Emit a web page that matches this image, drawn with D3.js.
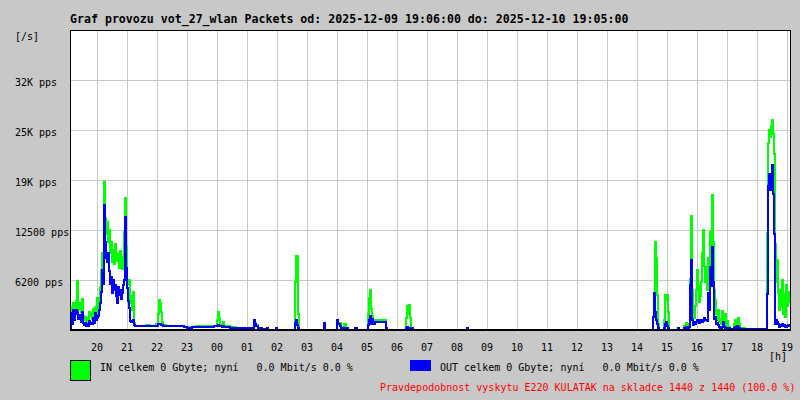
<!DOCTYPE html>
<html>
<head>
<meta charset="utf-8">
<script src="https://cdn.jsdelivr.net/npm/d3@7"></script>
<style>
  html, body { margin: 0; padding: 0; background: #c8c8c8; }
  svg { display: block; }
  text { font-family: "DejaVu Sans Mono", "Liberation Mono", monospace; }
</style>
</head>
<body>
<svg id="graf"></svg>
<script>
// osa X: minuty od 2025-12-09 19:06
const hourLabels = ["20","21","22","23","00","01","02","03","04","05","06","07",
                    "08","09","10","11","12","13","14","15","16","17","18","19"];
const firstHourMinute = 54;

// osa Y
const yTicks = [6250, 12500, 18750, 25000, 31250];
const yTickLabels = ["6200 pps", "12500 pps", "19K pps", "25K pps", "32K pps"];
const yMax = 37500;

// vzorky: [minuta, IN pps, OUT pps]
const samples = [
  [0,300,200],[2,2900,2100],[4,1500,800],[6,3400,2500],[8,2000,1200],[10,2800,2000],
  [12,3600,2500],[14,6100,2200],[16,2500,1400],[18,3000,1900],[20,3400,1600],[22,2200,1000],
  [24,3900,2200],[26,1800,900],[28,1300,600],[30,1600,900],[32,900,500],[34,1500,700],
  [36,1200,500],[38,2200,1100],[40,1700,800],[42,2100,900],[44,1400,700],[46,2600,1500],
  [48,1600,900],[50,2900,2100],[52,2000,1200],[54,4000,1500],[56,2700,1700],[58,3700,2500],
  [60,5400,3400],[62,7500,4700],[64,9600,7500],[66,8300,5700],[68,18500,15600],[70,14000,11000],
  [72,12000,9000],[74,13500,8500],[76,11000,9600],[78,12500,7400],[80,9600,5800],[82,11000,6600],
  [84,8500,4600],[86,10000,6200],[88,8200,5000],[90,10800,5600],[92,9000,4200],[94,8600,3400],
  [96,9500,5400],[98,7800,4400],[100,9900,5000],[102,8200,3900],[104,7600,4600],[106,9100,5600],
  [108,12300,6200],[110,16500,14100],[112,10500,7800],[114,6200,5200],[116,5600,3600],[118,6200,2700],
  [120,3400,1100],[122,4300,1000],[124,2500,1000],[126,4800,1200],[128,900,600],[130,500,500],
  [136,550,450],[144,450,500],[152,600,500],[160,500,450],[168,450,500],[172,700,500],
  [176,2000,700],[178,3700,800],[180,3400,700],[182,2200,600],[184,1000,600],[186,600,550],
  [192,500,500],[204,550,450],[212,450,500],[220,500,450],[228,400,400],[234,350,300],
  [244,400,350],[252,450,400],[260,450,400],[270,500,420],[280,450,400],[288,500,450],
  [294,1200,500],[296,2300,600],[298,1500,500],[300,600,450],[304,500,400],[306,1000,500],
  [308,500,400],[320,350,300],[332,300,250],[344,250,220],[356,200,200],[364,150,150],
  [368,1300,1250],[370,900,800],[372,600,500],[376,300,250],[384,100,80],[392,0,0],
  [394,250,250],[396,0,0],[412,200,200],[414,0,0],
  [450,6000,900],[452,9300,1250],[454,9300,600],[456,2000,300],[458,0,0],
  [508,800,830],[510,0,0],
  [534,1300,1250],[536,800,700],[540,900,500],[542,400,300],[548,700,300],[552,300,200],[556,0,0],
  [570,300,300],[574,0,0],
  [596,2000,600],[598,4000,1200],[600,5000,1700],[602,2600,800],[604,1700,1400],[606,1000,700],
  [610,1200,1000],[620,1250,1000],[630,1250,1000],[632,300,200],[634,0,0],
  [672,1500,300],[674,3000,400],[676,2000,300],[678,3100,300],[680,1500,200],[682,300,200],[686,0,0],
  [794,200,250],[796,0,0],
  [1166,1600,1600],[1168,3800,4600],[1170,11000,2200],[1172,9000,1300],[1174,4400,700],
  [1176,800,200],[1178,0,0],
  [1188,1200,300],[1190,4400,800],[1192,3700,1000],[1194,4400,500],[1196,2200,200],[1198,0,0],
  [1216,100,200],[1218,0,0],
  [1228,500,300],[1232,900,400],[1234,300,200],[1238,800,400],[1240,6400,5600],[1242,14200,8750],
  [1244,5000,1300],[1246,2900,600],[1248,1500,1000],[1250,3000,700],[1252,5000,1000],[1254,7500,1200],
  [1256,5500,1300],[1258,3500,900],[1260,4300,1100],[1262,6000,1200],[1264,9600,1000],[1266,12500,1100],
  [1268,8000,1500],[1270,6000,1200],[1272,7900,1300],[1274,5000,1100],[1276,9000,4600],[1278,7000,2500],
  [1280,12300,7900],[1282,10000,5500],[1284,16900,10400],[1286,11000,6000],[1288,5000,1400],
  [1290,3750,1600],[1292,2000,700],[1294,1300,900],[1296,2500,600],[1298,1000,400],[1300,1400,300],
  [1302,700,300],[1304,2400,400],[1306,900,1000],[1308,1300,400],[1310,2000,300],[1312,500,200],
  [1314,1100,300],[1316,400,200],[1320,100,80],
  [1328,800,300],[1330,1250,400],[1332,600,300],[1334,1200,500],[1336,1500,400],[1338,800,300],
  [1340,200,100],[1350,100,80],[1392,100,80],
  [1394,12100,4500],[1396,23400,18000],[1398,25000,19500],[1400,24100,17500],[1402,25500,18700],
  [1404,26250,20600],[1406,24500,17000],[1408,22000,12000],[1410,10800,800],[1412,6000,1200],
  [1414,8750,1000],[1416,4600,700],[1418,2500,400],[1420,5000,600],[1422,3000,500],[1424,6200,700],
  [1426,2000,500],[1428,4500,600],[1430,1600,400],[1432,5600,400],[1434,3000,500],[1436,4800,600],
  [1438,3500,500],[1440,3500,500]
];

const width = 800, height = 400;
const plot = { left: 70, right: 790, top: 30, bottom: 330 };

const svg = d3.select("#graf").attr("width", width).attr("height", height);

svg.append("rect").attr("width", width).attr("height", height).attr("fill", "#c8c8c8");

const x = d3.scaleLinear().domain([0, 1440]).range([plot.left, plot.right]);
const y = d3.scaleLinear().domain([0, yMax]).range([plot.bottom, plot.top]);

// plocha grafu
svg.append("rect")
  .attr("x", plot.left).attr("y", plot.top)
  .attr("width", plot.right - plot.left).attr("height", plot.bottom - plot.top)
  .attr("fill", "white");

const hourMinutes = hourLabels.map((d, i) => firstHourMinute + i * 60);

// mrizka
const grid = svg.append("g").attr("shape-rendering", "crispEdges")
  .attr("stroke", "#c8c8c8").attr("stroke-width", 1);
grid.selectAll(".vgrid").data(hourMinutes).enter().append("line")
  .attr("x1", d => Math.round(x(d)) + 0.5).attr("x2", d => Math.round(x(d)) + 0.5)
  .attr("y1", plot.top).attr("y2", plot.bottom);
grid.selectAll(".hgrid").data(yTicks).enter().append("line")
  .attr("x1", plot.left).attr("x2", plot.right)
  .attr("y1", d => Math.round(y(d)) + 0.5).attr("y2", d => Math.round(y(d)) + 0.5);

// data
const lineIn = d3.line().x(d => x(d[0])).y(d => y(d[1])).curve(d3.curveStepAfter);
const lineOut = d3.line().x(d => x(d[0])).y(d => y(d[2])).curve(d3.curveStepAfter);

svg.append("path").datum(samples)
  .attr("d", lineIn).attr("fill", "none")
  .attr("stroke", "#00ff00").attr("stroke-width", 2)
  .attr("shape-rendering", "crispEdges");
svg.append("path").datum(samples)
  .attr("d", lineOut).attr("fill", "none")
  .attr("stroke", "#0000ff").attr("stroke-width", 2)
  .attr("shape-rendering", "crispEdges");

// ramecek
const frame = svg.append("g").attr("stroke", "black").attr("shape-rendering", "crispEdges");
frame.append("line").attr("x1", plot.left + 0.5).attr("x2", plot.left + 0.5).attr("y1", plot.top).attr("y2", plot.bottom);
frame.append("line").attr("x1", plot.right + 0.5).attr("x2", plot.right + 0.5).attr("y1", plot.top).attr("y2", plot.bottom);
frame.append("line").attr("x1", plot.left).attr("x2", plot.right + 1).attr("y1", plot.top + 0.5).attr("y2", plot.top + 0.5);
frame.append("line").attr("x1", plot.left).attr("x2", plot.right + 1).attr("y1", plot.bottom).attr("y2", plot.bottom).attr("stroke-width", 2);

// popisky osy Y
svg.selectAll(".ylab").data(yTicks).enter().append("text")
  .attr("x", 15).attr("y", d => y(d) + 6)
  .attr("font-size", 10).attr("fill", "black")
  .text((d, i) => yTickLabels[i]);
svg.append("text").attr("x", 15).attr("y", 40).attr("font-size", 10).text("[/s]");

// popisky osy X
svg.selectAll(".xlab").data(hourMinutes).enter().append("text")
  .attr("x", d => x(d)).attr("y", 351)
  .attr("text-anchor", "middle").attr("font-size", 10)
  .text((d, i) => hourLabels[i]);
svg.append("text").attr("x", 769).attr("y", 360).attr("font-size", 10).text("[h]");

// titulek
svg.append("text")
  .attr("x", 70).attr("y", 23)
  .attr("font-size", 11.6).attr("font-weight", "bold")
  .text("Graf provozu vot_27_wlan Packets od: 2025-12-09 19:06:00 do: 2025-12-10 19:05:00");

// legenda
svg.append("rect").attr("x", 70.5).attr("y", 360.5).attr("width", 20).attr("height", 20)
  .attr("fill", "#00ff00").attr("stroke", "black").attr("shape-rendering", "crispEdges");
svg.append("text").attr("x", 100).attr("y", 371).attr("font-size", 10)
  .attr("xml:space", "preserve").style("white-space", "pre")
  .text("IN celkem 0 Gbyte; nyní   0.0 Mbit/s 0.0 %");
svg.append("rect").attr("x", 410).attr("y", 360).attr("width", 21).attr("height", 11)
  .attr("fill", "#0000ff");
svg.append("text").attr("x", 440).attr("y", 371).attr("font-size", 10)
  .attr("xml:space", "preserve").style("white-space", "pre")
  .text("OUT celkem 0 Gbyte; nyní   0.0 Mbit/s 0.0 %");

svg.append("text").attr("x", 380).attr("y", 391).attr("font-size", 10).attr("fill", "#ff0000")
  .text("Pravdepodobnost vyskytu E220 KULATAK na skladce 1440 z 1440 (100.0 %)");
</script>
</body>
</html>
